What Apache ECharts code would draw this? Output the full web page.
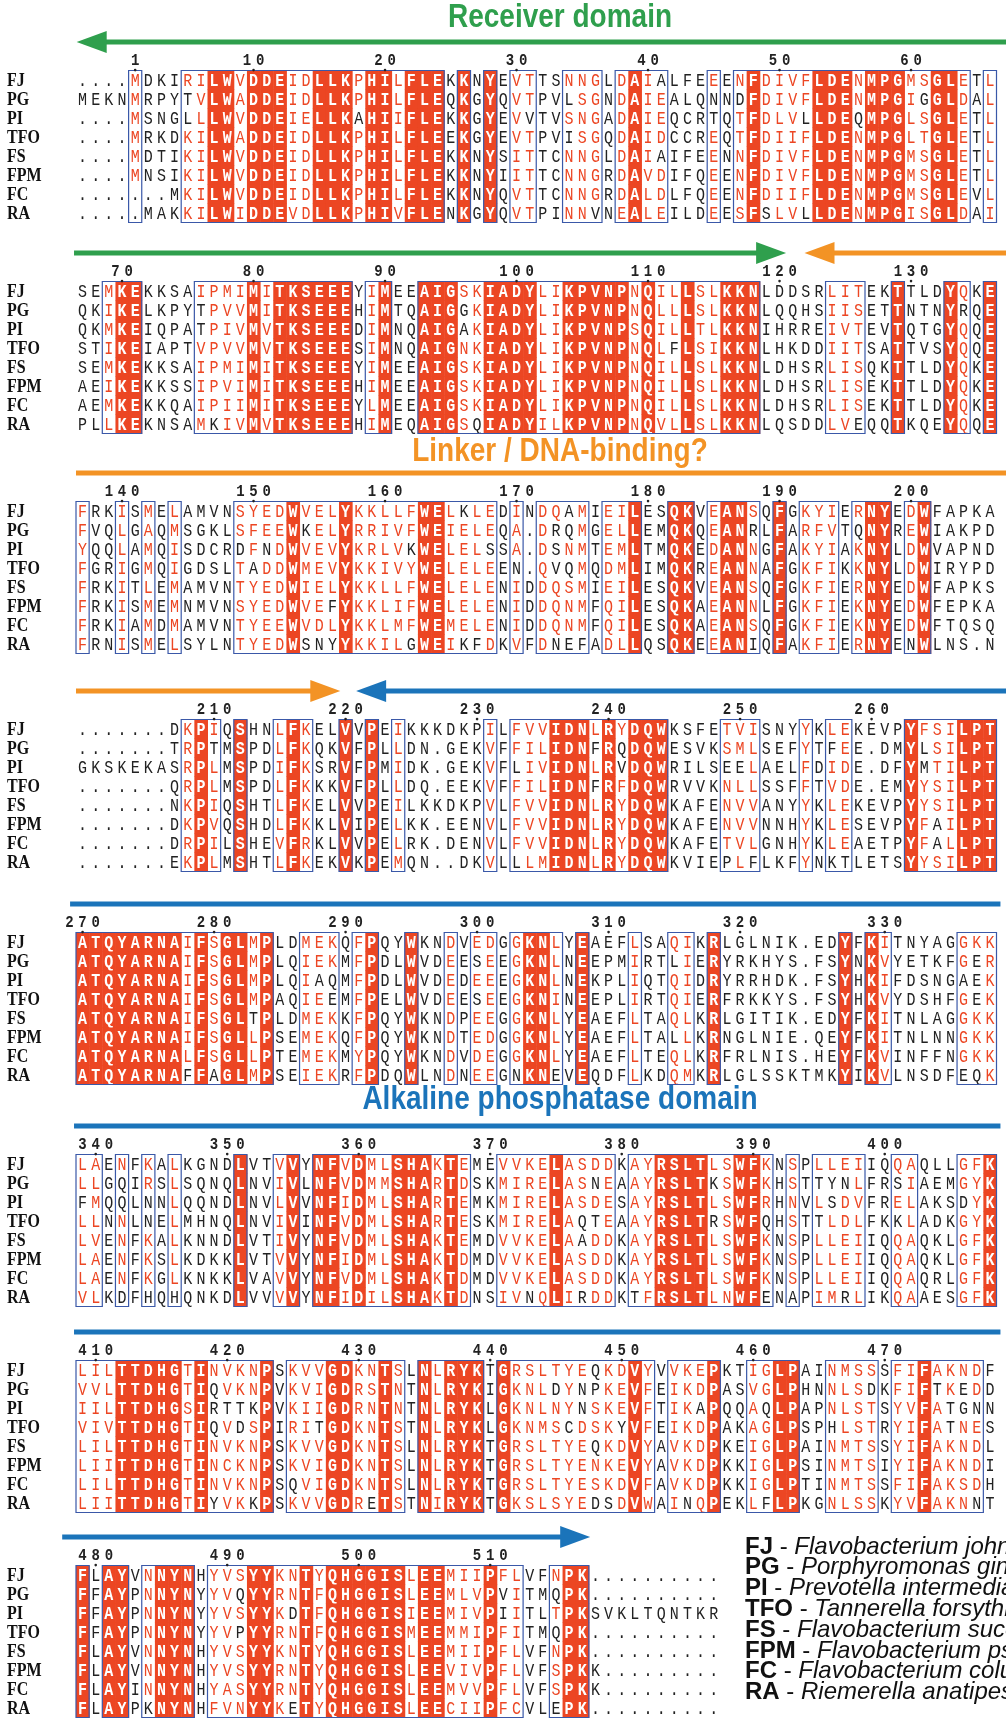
<!DOCTYPE html>
<html>
<head>
<meta charset="utf-8">
<script src="https://cdn.jsdelivr.net/npm/echarts/dist/echarts.min.js"></script>
<style>
  html, body { margin: 0; padding: 0; background: #fff; }
  #chart { width: 1006px; height: 1720px; }
</style>
</head>
<body>
<div id="chart"></div>
<script>
// sequence names and species
var names = ['FJ', 'PG', 'PI', 'TFO', 'FS', 'FPM', 'FC', 'RA'];
var species = [
  'Flavobacterium johnsoniae',
  'Porphyromonas gingivalis',
  'Prevotella intermedia',
  'Tannerella forsythia',
  'Flavobacterium succinicans',
  'Flavobacterium psychrophilum',
  'Flavobacterium columnare',
  'Riemerella anatipestifer'
];

// alignment, one array per block of 70 columns
var seqBlock1 = [
  '....MDKIRILWVDDEIDLLKPHILFLEKKNYEVTTSNNGLDAIALFEEENFDIVFLDENMPGMSGLETL',
  'MEKNMRPYTVLWADDEIDLLKPHILFLEQKGYQVTPVLSGNDAIEALQNNDFDIVFLDENMPGIGGLDAL',
  '....MSNGLLLWVDDEIELLKAHIIFLEKKGYEVVTVSNGADAIEQCRTQTFDLVLLDEQMPGLSGLETL',
  '....MRKDKILWADDEIDLLKPHILFLEEKGYEVTPVISGQDAIDCCREQTFDIIFLDENMPGLTGLETL',
  '....MDTIKILWVDDEIDLLKPHILFLEKKNYSITTCNNGLDAIAIFEENNFDIVFLDENMPGMSGLETL',
  '....MNSIKILWVDDEIDLLKPHILFLEKKNYIITTCNNGRDAVDIFQEENFDIVFLDENMPGMSGLETL',
  '.......MKILWVDDEIDLLKPHILFLEKKNYQVTTCNNGRDALDLFQEENFDIIFLDENMPGMSGLEVL',
  '.....MAKKILWIDDEVDLLKPHIVFLENKGYQVTPINNVNEALEILDEESFSLVLLDENMPGISGLDAI'
];
var seqBlock2 = [
  'SEMKEKKSAIPMIMITKSEEEYIMEEAIGSKIADYLIKPVNPNQILLSLKKNLDDSRLITEKTTLDYQKE',
  'QKIKELKPYTPVVMITKSEEEHIMTQAIGGKIADYLIKPVNPNQLLLSLKKNLQQHSIISETTNTNYRQE',
  'QKMKEIQPATPIVMVTKSEEEDIMNQAIGAKIADYLIKPVNPSQILLTLKKNIHRREIVTEVTQTGYQQE',
  'STIKEIAPTVPVVMVTKSEEESIMNQAIGNKIADYLIKPVNPNQLFLSIKKNLHKDDIITSATTVSYQQE',
  'SEMKEKKSAIPMIMITKSEEEYIMEEAIGSKIADYLIKPVNPNQILLSLKKNLDHSRLISQKTTLDYQKE',
  'AEIKEKKSSIPVIMITKSEEEHIMEEAIGSKIADYLIKPVNPNQILLSLKKNLDHSRLISEKTTLDYQKE',
  'AEMKEKKQAIPIIMITKSEEEYLMEEAIGSKIADYLIKPVNPNQILLSLKKNLDHSRLISEKTTLDYQKE',
  'PLLKEKNSAMKIVMVTKSEEEHIMEQAIGSQIADYILKPVNPNQVLLSLKKNLQSDDLVEQQTKQEYQQE'
];
var seqBlock3 = [
  'FRKISMELAMVNSYEDWVELYKKLLFWELKLEDINDQAMIEILESQKVEANSQFGKYIERNYEDWFAPKA',
  'FVQLGAQMSGKLSFEEWKELYRRIVFWEIELEQA.DRQMGELLEMQKQEANRLFARFVTQNYREWIAKPD',
  'YQQLAMQISDCRDFNDWVEVYKRLVKWELELSSA.DSNMTEMLTMQKEDANNGFAKYIAKNYLDWVAPND',
  'FGRIGMQIGDSLTADDWMEVYKKIVYWELELEEN.QVQMQDMLIMQKREANNAFGKFIKKNYLDWIRYPD',
  'FRKITLEMAMVNTYEDWIELYKKLLFWELELENIDDQSMIEILESQKVEANSQFGKFIERNYEDWFAPKS',
  'FRKISMEMNMVNSYEDWVEFYKKLIFWELELENIDDQNMFQILESQKAEANNLFGKFIEKNYEDWFEPKA',
  'FRKIAMDMAMVNTYEEWVDLYKKLMFWEMELENIDDQNMFQILESQKAEANSQFGKFIEKNYEDWFTQSQ',
  'FRNISMELSYLNTYEDWSNYYKKILGWEIKFDKVFDNEFADLLQSQKEEANIQFAKFIERNYENWLNS.N'
];
var seqBlock4 = [
  '.......DKPIQSHNLFKELVVPEIKKKDKPILFVVIDNLRYDQWKSFETVISNYYKLEKEVPYFSILPT',
  '.......TRPTMSPDLFKQKVFPLLDN.GEKVFFILIDNFRQDQWESVKSMLSEFYTFEE.DMYLSILPT',
  'GKSKEKASRPLMSPDIFKSRVFPMIDK.GEKVFLIVIDNLRVDQWRILSEELAELFDIDE.DFYMTILPT',
  '.......QRPLMSPDLFKKKVFPLLDQ.EEKVFFILIDNFRFDQWRVVKNLLSSFFTVDE.EMYYSILPT',
  '.......NKPIQSHTLFKELVVPEILKKDKPVLFVVIDNLRYDQWKAFENVVANYYKLEKEVPYYSILPT',
  '.......DKPVQSHDLFKKLVIPELKK.EENVLFVVIDNLRYDQWKAFENVVNNHYKLESEVPYFAILPT',
  '.......DRPILSHEVFRKLVVPELRK.DENVLFVVIDNLRYDQWKAFETVLGNHYKLEAETPYFALLPT',
  '.......EKPLMSHTLFKEKVKPEMQN..DKVLLLMIDNLRYDQWKVIEPLFLKFYNKTLETSYYSILPT'
];
var seqBlock5 = [
  'ATQYARNAIFSGLMPLDMEKQFPQYWKNDVEDGGKNLYEAEFLSAQIKRLGLNIK.EDYFKITNYAGGKK',
  'ATQYARNAIFSGLMPLQIEKMFPDLWVDEESEEGKNLNEEPMIRTLIERYRKHYS.FSYNKVYETKFGER',
  'ATQYARNAIFSGLMPLQIAQMFPDLWVDEDEEEGKNLNEKPLIQTQIDRYRRHDK.FSYHKIFDSNGAEK',
  'ATQYARNAIFSGLMPAQIEEMFPELWVDEESEEGKNINEEPLIRTQIERFRKKYS.FSYHKVYDSHFGEK',
  'ATQYARNAIFSGLTPLDMEKKFPQYWKNDPEEGGKNLYEAEFLTAQLKRLGITIK.EDYFKITNLAGGKK',
  'ATQYARNAIFSGLLPSEMEKQFPQYWKNDTEDGGKNLYEAEFLTALLKRNGLNIE.QEYFKITNLNNGKK',
  'ATQYARNALFSGLLPTEMEKMYPQYWKNDVDEGGKNLYEAEFLTEQLKRFRLNIS.HEYFKVINFFNGKK',
  'ATQYARNAFFAGLMPSEIEKRFPDQWLNDNEEGNKNEVEQDFLKDQMKRLGLSSKTMKYIKVLNSDFEQK'
];
var seqBlock6 = [
  'LAENFKALKGNDLVTVVYNFVDMLSHAKTEMEVVKELASDDKAYRSLTLSWFKNSPLLEIIQQAQLLGFK',
  'LLGQIRSLSQNQLNVIVLNFVDMMSHARTDSKMIRELASNEAAYRSLTKSWFKHSTTYNLFRSIAEMGYK',
  'FMQQLNNLQQNDLNVLVVNFIDMLSHARTEMKMIRELASDESAYRSLTLSWFRHNVLSDVFRELAKSDYK',
  'LLNNLNELMHNQLNVIVINFVDMLSHARTESKMIRELAQTEAAYRSLTRSWFQHSTTLDLFKKLADKGYK',
  'LVENFKALKNNDLVTIVYNFVDMLSHAKTEMDVVKELAADDKAYRSLTLSWFKNSPLLEIIQQAQKLGFK',
  'LAENFKSLKDKKLVTVVYNFIDMLSHAKTDMDVVKELASDDKAYRSLTLSWFKNSPLLEIIQQAQKLGFK',
  'LAENFKGLKNKKLVAVVYNFVDMLSHAKTDMDVVKELASDDKAYRSLTLSWFKNSPLLEIIQQAQRLGFK',
  'VLKDFHQHQNKDLVVVVYNFIDILSHAKTDNSIVNQLIRDDKTFRSLTLNWFENAPIMRLIKQAAESGFK'
];
var seqBlock7 = [
  'LILTTDHGTINVKNPSKVVGDKNTSLNLRYKTGRSLTYEQKDVYVVKEPKTIGLPAINMSSSFIFAKNDF',
  'VVLTTDHGTIQVKNPVKVIGDRSTNTNLRYKIGKNLDYNPKEVFEIKDPASVGLPHNNLSDKFIFTKEDD',
  'IILTTDHGSIRTTKPVKIIGDRNTNTNLRYKLGKNLNYNSKEVFTIKAPQQAQLPAPNLSTSYVFATGNN',
  'VIVTTDHGTIQVDSPIRITGDKNTSTNLRYKLGKNMSCDSKYVFEIKDPAKAGLPSPHLSTRYIFATNES',
  'LILTTDHGTINVKNPSKVVGDKNTSLNLRYKTGRSLTYEQKDVYAVKDPKEIGLPAINMTSSYIFAKNDL',
  'LIITTDHGTINCKNPSKVIGDKNTSLNLRYKTGRSLTYENKEVYAVKDPKKIGLPSINMTSIYIFAKNDI',
  'LILTTDHGTINVKNPSQVIGDKNTSLNLRYKTGRSLTYESKDVFAVKDPKKIGLPTINMTSSFIFAKSDH',
  'LIITTDHGTIYVKKPSKVVGDRETSTNIRYKTGKSLSYEDSDVWAINQPEKLFLPKGNLSSKYVFAKNNT'
];
var seqBlock8 = [
  'FLAYVNNYNHYVSYYKNTYQHGGISLEEMIIPFLVFNPK..........',
  'FFAYPNNYNYYVQYYRNTFQHGGISLEEMLVPVITMQPK..........',
  'FFAYPNNYNYYVSYYKDTFQHGGISIEEMIVPIITLTPKSVKLTQNTKR',
  'FFAYPNNYNYYVPYYRNTFQHGGISMEEMMIPFITMQPK..........',
  'FLAYVNNYNHYVSYYKNTYQHGGISLEEMIIPFLVFNPK..........',
  'FLAYVNNYNHYVSYYRNTYQHGGISLEEVIVPFLVFSPKK.........',
  'FLAYINNYNHYASYYRNTYQHGGISLEEMVVPFLVFSPKK.........',
  'FLAYPKNYNHFVNYYKETYQHGGISLEECIIPFCVLEPK..........'
];
var seqBlocks = [seqBlock1, seqBlock2, seqBlock3, seqBlock4, seqBlock5, seqBlock6, seqBlock7, seqBlock8];

// framed (similar) columns per block, x = inside a blue frame
var boxMask = [
  '....x...xxxxxxxxxxxxxxxxxxxx.x.x.xx..xxx.xxxx...x.xxxxxxxxxxxxxxxxxx.x',
  '..xxx....xxxxxxxxxxxx.xx..xxxxxxxxxxxxxxxxxxxxxxxxxx.....xxx..x...xx.x',
  'x..x.x.x....xxxxxxxxxxxxxxxxxxxx.x.xxxx.xxx..xx.xxxx.x.xxx.xxx.xx.....',
  '........xxx.x..xxx..x.x.x......x.xxxxxxxxxxxx....xxx...x.xx....xxxxxxx',
  'xxxxxxxxxxxxxxx..xxx.xx..x..x.xx.xxxx.x...x..xx.x.........x.xx.....xxx',
  'xx.x.x.x....x..xx.xxxxxxxxxxxx..xxxxxxxxx.xxxxxxxxxxx.x.xxxx..xx...xxx',
  'xxxxxxxxxxxxxxx.xxxxxxxxx.xxxxx.xxxxxxxxxxxx.xxxx..xxxx..xxxx.xxxxxxx.',
  'x.xx.xxxx.xxxxxxxxxxxxxxxxxxxxxxxx..xxx..........'
];
// residue number of the first FJ residue in each block
var blockStart = [1, 67, 137, 207, 270, 339, 409, 479];
var simGroups = ['ILMVAC', 'FYWH', 'KR', 'DEQ', 'NST', 'G', 'P'];

var titleTexts = ['Receiver domain', 'Linker / DNA-binding?', 'Alkaline phosphatase domain'];

var GREEN = '#2f9f4d', ORANGE = '#f39325', BLUE = '#1b74ba';
// domain arrows, in column units of each block
var arrows = [
  { block: 0, from: 70.3, to: -0.45, color: GREEN, head: true },
  { block: 1, from: -0.65, to: 53.5, color: GREEN, head: true },
  { block: 1, from: 70.3, to: 54.9, color: ORANGE, head: true },
  { block: 2, from: -0.5, to: 70.3, color: ORANGE, head: false },
  { block: 3, from: -0.5, to: 19.6, color: ORANGE, head: true },
  { block: 3, from: 70.3, to: 20.8, color: BLUE, head: true },
  { block: 4, from: -0.95, to: 69.8, color: BLUE, head: false },
  { block: 5, from: -0.65, to: 69.8, color: BLUE, head: false },
  { block: 6, from: -0.65, to: 69.8, color: BLUE, head: false },
  { block: 7, from: -1.55, to: 38.6, color: BLUE, head: true }
];

// layout
var RED = '#ec4623';
var FRAME = '#3a58a8';
var ROW_H = 19, COL_W = 13.15, LEFT = 76;
var blockY = [80, 291, 511, 729, 942, 1164, 1370, 1575];
var titleY = [18, 452, 1100];
var NUM_ROW = -1.0, DOT_ROW = -0.52, ARROW_ROW = -2.0;
var SEQ_FONT = '15px "Liberation Mono", monospace';
var SEQ_FONT_B = 'bold 15px "Liberation Mono", monospace';
var STRETCH = 1.22;

function groupOf(ch) {
  for (var g = 0; g < simGroups.length; g++) {
    if (simGroups[g].indexOf(ch) >= 0) return g;
  }
  return -1;
}

var chart = echarts.init(document.getElementById('chart'));
var grids = [], xAxes = [], yAxes = [], series = [];

seqBlocks.forEach(function (rows, k) {
  grids.push({ left: LEFT, top: blockY[k] - 3.5 * ROW_H, width: 70 * COL_W, height: 11 * ROW_H });
  xAxes.push({ type: 'value', gridIndex: k, min: -0.5, max: 69.5, show: false });
  yAxes.push({ type: 'value', gridIndex: k, min: -3.5, max: 7.5, inverse: true, show: false });

  var len = rows[0].length;
  var mask = boxMask[k];
  var cells = [];
  for (var c = 0; c < len; c++) {
    var col = rows.map(function (s) { return s[c]; });
    var same = col.every(function (ch) { return ch !== '.' && ch === col[0]; });
    var counts = {}, best = -1, bestN = 0;
    col.forEach(function (ch) {
      var g = groupOf(ch);
      if (g < 0) return;
      counts[g] = (counts[g] || 0) + 1;
      if (counts[g] > bestN) { bestN = counts[g]; best = g; }
    });
    for (var r = 0; r < rows.length; r++) {
      var ch = col[r];
      var color = '#222';
      if (same) color = '#fff';
      else if (mask[c] === 'x' && ch !== '.' && groupOf(ch) === best) color = RED;
      cells.push({ value: [c, r], ch: ch, color: color, fill: same });
    }
  }

  // frames
  var frames = [];
  var start = -1;
  for (var c2 = 0; c2 <= mask.length; c2++) {
    if (c2 < mask.length && mask[c2] === 'x') { if (start < 0) start = c2; }
    else if (start >= 0) { frames.push([start, c2 - 1]); start = -1; }
  }

  // numbering ticks from FJ
  var ticks = [];
  var n = blockStart[k] - 1;
  for (var c3 = 0; c3 < len; c3++) {
    if (rows[0][c3] === '.') continue;
    n++;
    if (n === 1 || n % 10 === 0) ticks.push({ value: [c3, NUM_ROW], label: String(n) });
  }

  series.push({
    type: 'custom', xAxisIndex: k, yAxisIndex: k, silent: true, animation: false,
    data: cells,
    renderItem: function (params, api) {
      var info = cells[params.dataIndex];
      var p = api.coord([api.value(0), api.value(1)]);
      var sz = api.size([1, 1]);
      var kids = [];
      if (info.fill) {
        kids.push({ type: 'rect', shape: { x: p[0] - sz[0] / 2, y: p[1] - sz[1] / 2, width: sz[0] + 0.5, height: sz[1] + 0.5 }, style: { fill: RED } });
      }
      kids.push({ type: 'text', x: p[0], y: p[1] + 1, scaleY: STRETCH,
        style: { text: info.ch, fill: info.color, font: info.fill ? SEQ_FONT_B : SEQ_FONT, align: 'center', verticalAlign: 'middle' } });
      return { type: 'group', children: kids };
    }
  });

  series.push({
    type: 'custom', xAxisIndex: k, yAxisIndex: k, silent: true, animation: false,
    data: frames,
    renderItem: function (params, api) {
      var a = api.coord([api.value(0) - 0.5, -0.5]);
      var b = api.coord([api.value(1) + 0.5, rows.length - 0.5]);
      return { type: 'rect', shape: { x: a[0], y: a[1], width: b[0] - a[0], height: b[1] - a[1] },
        style: { fill: null, stroke: FRAME, lineWidth: 1.2 } };
    }
  });

  series.push({
    type: 'custom', xAxisIndex: k, yAxisIndex: k, silent: true, animation: false,
    data: ticks,
    renderItem: function (params, api) {
      var t = ticks[params.dataIndex];
      var c = api.value(0);
      var kids = [];
      for (var i = 0; i < t.label.length; i++) {
        var p = api.coord([c + i - (t.label.length - 1) / 2, NUM_ROW]);
        kids.push({ type: 'text', x: p[0], y: p[1], scaleY: 1.15,
          style: { text: t.label[i], fill: '#222', font: 'bold 14px "Liberation Mono", monospace', align: 'center', verticalAlign: 'middle' } });
      }
      var d = api.coord([c, DOT_ROW]);
      kids.push({ type: 'circle', shape: { cx: d[0], cy: d[1], r: 1.3 }, style: { fill: '#222' } });
      return { type: 'group', children: kids };
    }
  });

  series.push({
    type: 'custom', xAxisIndex: k, yAxisIndex: k, silent: true, animation: false,
    data: names.map(function (nm, r) { return { value: [-0.5, r], name: nm }; }),
    renderItem: function (params, api) {
      var p = api.coord([api.value(0), api.value(1)]);
      return { type: 'text', x: p[0] - 69, y: p[1] + 1, scaleY: 1.15,
        style: { text: names[params.dataIndex], fill: '#111', font: 'bold 16px "Liberation Serif", serif', align: 'left', verticalAlign: 'middle' } };
    }
  });

  var myArrows = arrows.filter(function (a) { return a.block === k; });
  series.push({
    type: 'custom', xAxisIndex: k, yAxisIndex: k, silent: true, animation: false,
    data: myArrows.map(function (a) { return [a.from, a.to]; }),
    renderItem: function (params, api) {
      var a = myArrows[params.dataIndex];
      var p0 = api.coord([api.value(0), ARROW_ROW]);
      var p1 = api.coord([api.value(1), ARROW_ROW]);
      var dir = p1[0] > p0[0] ? 1 : -1;
      var headL = 30, headH = 11;
      var end = a.head ? p1[0] - dir * (headL - 4) : p1[0];
      var kids = [{ type: 'line', shape: { x1: p0[0], y1: p0[1], x2: end, y2: p1[1] }, style: { stroke: a.color, lineWidth: 5 } }];
      if (a.head) {
        kids.push({ type: 'polygon', shape: { points: [[p1[0], p1[1]], [p1[0] - dir * headL, p1[1] - headH], [p1[0] - dir * headL, p1[1] + headH]] }, style: { fill: a.color } });
      }
      return { type: 'group', children: kids };
    }
  });
});

var titleColors = [GREEN, ORANGE, BLUE];
var graphics = titleTexts.map(function (t, i) {
  return { type: 'text', x: 560, y: titleY[i], scaleY: 1.2, silent: true,
    style: { text: t, fill: titleColors[i], font: 'bold 28px "Liberation Sans", sans-serif', align: 'center', verticalAlign: 'middle' } };
});
names.forEach(function (nm, i) {
  graphics.push({ type: 'text', x: 745, y: 1547 + i * 20.8, silent: true,
    style: { text: '{b|' + nm + '} - {i|' + species[i] + '}', verticalAlign: 'middle',
      rich: {
        b: { font: 'bold 24px "Liberation Sans", sans-serif', fill: '#111' },
        i: { font: 'italic 24px "Liberation Sans", sans-serif', fill: '#111' }
      }, font: '24px "Liberation Sans", sans-serif', fill: '#111' } });
});

chart.setOption({
  animation: false,
  backgroundColor: '#fff',
  grid: grids,
  xAxis: xAxes,
  yAxis: yAxes,
  series: series,
  graphic: graphics
});
</script>
</body>
</html>
